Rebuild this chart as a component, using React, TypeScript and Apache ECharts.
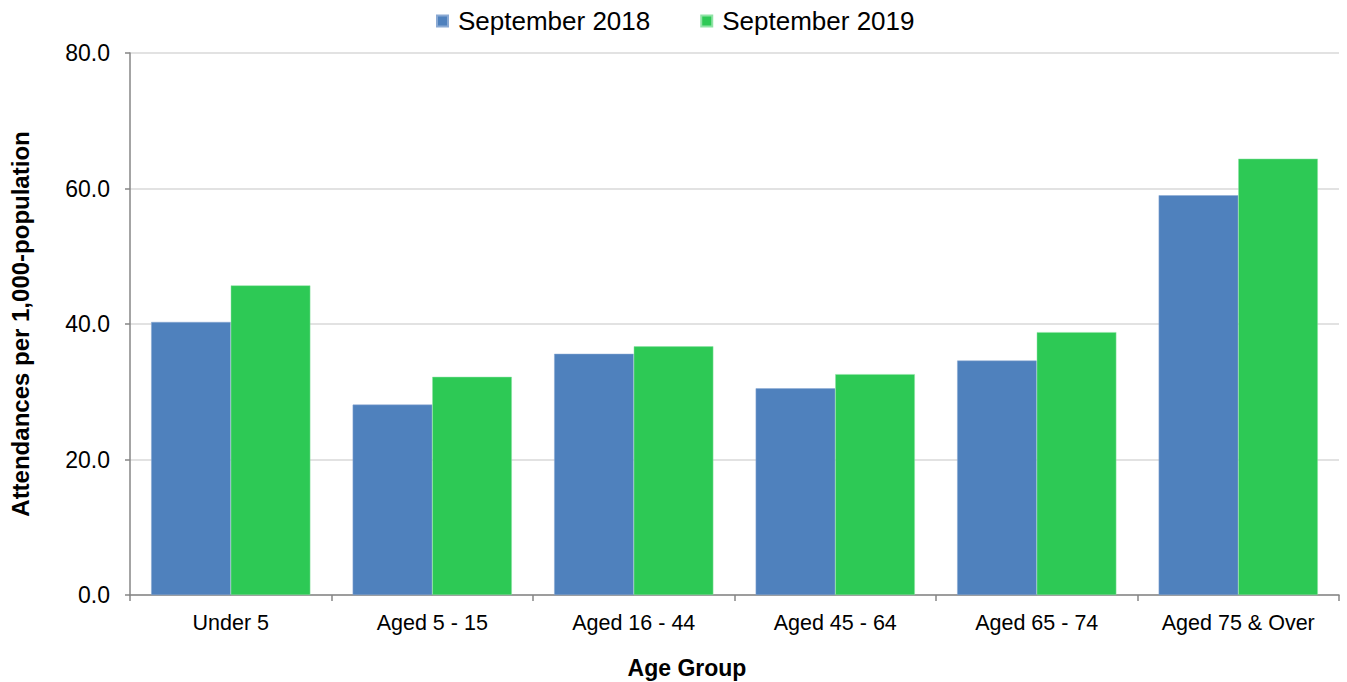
import React, { useEffect, useRef } from "react";
import * as echarts from "echarts";

const categories = ["Under 5", "Aged 5 - 15", "Aged 16 - 44", "Aged 45 - 64", "Aged 65 - 74", "Aged 75 & Over"];
const sep2018 = [40.3, 28.1, 35.6, 30.5, 34.6, 59.0];
const sep2019 = [45.7, 32.2, 36.7, 32.6, 38.8, 64.4];
const seriesNames = ["September 2018", "September 2019"];
const yTicks = { min: 0, max: 80, interval: 20 };
const xTitle = "Age Group";
const yTitle = "Attendances per 1,000-population";

const FONT = "'Liberation Sans', Arial, sans-serif";

export default function App() {
  const ref = useRef<HTMLDivElement>(null);
  useEffect(() => {
    document.body.style.margin = "0";
    const chart = echarts.init(ref.current!, null, { renderer: "svg" });
    chart.setOption({
      animation: false,
      backgroundColor: "#ffffff",
      textStyle: { fontFamily: FONT },
      legend: {
        top: 3,
        left: 431,
        icon: "rect",
        itemWidth: 11,
        itemHeight: 11,
        itemGap: 50,
        textStyle: { fontSize: 26, color: "#000", fontFamily: FONT, padding: [0, 0, 0, 5] },
        data: seriesNames,
      },
      grid: { left: 127, right: 8, top: 53, bottom: 87, containLabel: false },
      graphic: [
        {
          type: "text",
          x: 687,
          y: 668,
          style: {
            text: xTitle,
            fontSize: 23,
            fontWeight: "bold",
            fill: "#000",
            fontFamily: FONT,
            textAlign: "center",
            textVerticalAlign: "middle",
          },
        },
      ],
      xAxis: {
        type: "category",
        data: categories,
        axisLine: { lineStyle: { color: "#868686", width: 1.5 } },
        axisTick: { show: true, interval: 0, length: 6, lineStyle: { color: "#868686", width: 1.5 } },
        axisLabel: { interval: 0, fontSize: 21.5, color: "#000", margin: 17, fontFamily: FONT },
      },
      yAxis: {
        type: "value",
        min: yTicks.min,
        max: yTicks.max,
        interval: yTicks.interval,
        name: yTitle,
        nameLocation: "middle",
        nameGap: 98,
        nameRotate: 90,
        nameTextStyle: { fontSize: 24, fontWeight: "bold", color: "#000", fontFamily: FONT },
        axisLine: { show: true, lineStyle: { color: "#868686", width: 1.5 } },
        axisTick: { show: true, length: 5, lineStyle: { color: "#868686", width: 1.5 } },
        axisLabel: {
          fontSize: 23,
          color: "#000",
          margin: 20,
          fontFamily: FONT,
          formatter: (v: number) => v.toFixed(1),
        },
        splitLine: { lineStyle: { color: "#d9d9d9", width: 1.5 } },
      },
      series: [
        {
          name: seriesNames[0],
          type: "bar",
          data: sep2018,
          barGap: "0%",
          barCategoryGap: "21%",
          itemStyle: { color: "#4F81BD", borderColor: "#8aa9d3", borderWidth: 0.5 },
        },
        {
          name: seriesNames[1],
          type: "bar",
          data: sep2019,
          barGap: "0%",
          barCategoryGap: "21%",
          itemStyle: { color: "#2DC955", borderColor: "#8fe3a5", borderWidth: 0.5 },
        },
      ],
    });
    return () => chart.dispose();
  }, []);
  return <div ref={ref} style={{ width: 1347, height: 682 }} />;
}
